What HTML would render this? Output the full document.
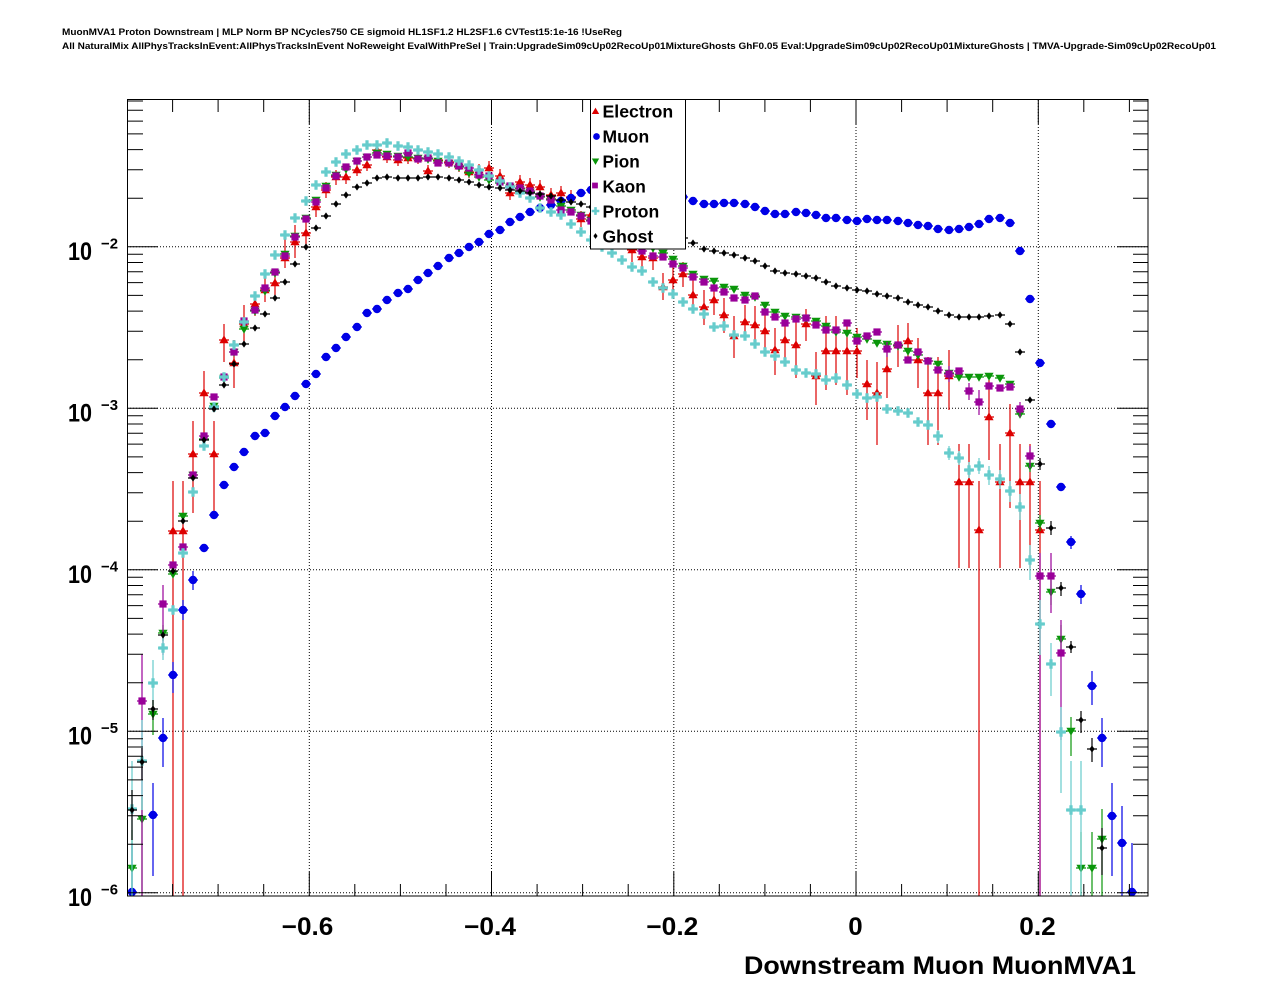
<!DOCTYPE html>
<html><head><meta charset="utf-8"><style>html,body{margin:0;padding:0;background:#fff;overflow:hidden}svg{display:block}</style></head>
<body>
<svg width="1276" height="996" viewBox="0 0 1276 996" xmlns="http://www.w3.org/2000/svg" xmlns:xlink="http://www.w3.org/1999/xlink" font-family="'Liberation Sans', Arial, sans-serif" font-weight="bold">
<defs>
<circle id="mc" cx="0" cy="0" r="4.2"/>
<path id="mtu" d="M0-4.8L4.6 3.2H-4.6Z"/>
<path id="mtd" d="M0 4.8L4.6-3.2H-4.6Z"/>
<path id="ms" d="M-3.6-3.6h7.2v7.2h-7.2z"/>
<path id="mx" d="M-1.6-4.8h3.2v3.2h3.2v3.2h-3.2v3.2h-3.2v-3.2h-3.2v-3.2h3.2z"/>
<path id="md" d="M0-3.6L2.6 0 0 3.6-2.6 0Z"/>
</defs>
<rect width="1276" height="996" fill="#fff"/>
<text x="62" y="35" font-size="9.5" textLength="560" lengthAdjust="spacingAndGlyphs">MuonMVA1 Proton Downstream | MLP Norm BP NCycles750 CE sigmoid HL1SF1.2 HL2SF1.6 CVTest15:1e-16 !UseReg</text>
<text x="62" y="49" font-size="9.5" textLength="1154" lengthAdjust="spacingAndGlyphs">All NaturalMix AllPhysTracksInEvent:AllPhysTracksInEvent NoReweight EvalWithPreSel | Train:UpgradeSim09cUp02RecoUp01MixtureGhosts GhF0.05 Eval:UpgradeSim09cUp02RecoUp01MixtureGhosts | TMVA-Upgrade-Sim09cUp02RecoUp01</text>

<!-- grid -->
<path d="M309.3 100V896M491.5 100V896M673.8 100V896M856 100V896M1038.3 100V896M127 246.8H1148M127 408.3H1148M127 569.8H1148M127 731.3H1148M127 892.8H1148" stroke="#000" stroke-width="1" stroke-dasharray="1 2" fill="none"/>

<!-- Electron -->
<g stroke="#dd0000" stroke-width="1.2" fill="none">
<path d="M168 531h10M173 481V896M178 531h10M183 481V896M188 454h10M193 421V513M199 393h10M204 371V440M209 454h10M214 421V513M219 340h10M224 324V362M229 363h10M234 340V388M239 324h10M244 305V345M250 304h10M255 292V316M260 290h10M265 278V302M270 283h10M275 272V295M280 258h10M285 238V268M290 242h10M295 225V258M301 233h10M306 220V245M311 207h10M316 198V217M321 190h10M326 182V198M331 177h10M336 170V185M341 177h10M346 171V184M352 170h10M357 164V176M362 165h10M367 159V171M372 150h10M377 144V156M382 157h10M387 151V163M393 160h10M398 154V166M403 158h10M408 152V164M413 158h10M418 152V164M423 171h10M428 165V177M433 160h10M438 154V166M444 162h10M449 156V168M454 166h10M459 160V172M464 172h10M469 166V178M474 170h10M479 164V176M484 168h10M489 161V175M495 176h10M500 169V183M505 193h10M510 186V200M515 182h10M520 175V189M525 185h10M530 178V192M535 187h10M540 180V194M546 195h10M551 188V202M556 193h10M561 186V200M566 197h10M571 190V204M576 219h10M581 211V227M586 215h10M591 207V223M627 250h10M632 240V262M637 257h10M642 247V268M648 258h10M653 247V270M658 287h10M663 273V300M668 280h10M673 266V295M678 274h10M683 262V287M688 295h10M693 280V310M699 307h10M704 290V325M709 300h10M714 286V315M719 315h10M724 298V333M729 336h10M734 316V358M740 322h10M745 305V340M750 325h10M755 306V345M760 331h10M765 312V350M770 350h10M775 328V375M780 340h10M785 320V362M791 345h10M796 314V378M801 324h10M806 309V341M811 376h10M816 352V405M821 351h10M826 316V390M831 351h10M836 316V385M842 351h10M847 320V395M852 351h10M857 328V378M862 384h10M867 360V420M872 393h10M877 362V445M882 369h10M887 343V398M893 345h10M898 325V367M903 341h10M908 323V362M913 360h10M918 338V388M923 393h10M928 357V445M933 393h10M938 357V445M944 376h10M949 350V410M954 482h10M959 444V568M964 482h10M969 444V568M974 530h10M979 481V896M984 417h10M989 380V460M995 482h10M1000 444V568M1005 433h10M1010 404V508M1015 482h10M1020 444V568M1025 482h10M1030 444V568M1035 530h10M1040 481V896"/>
</g>
<g fill="#dd0000">
<use href="#mtu" x="173" y="531"/><use href="#mtu" x="183" y="531"/><use href="#mtu" x="193" y="454"/><use href="#mtu" x="204" y="393"/><use href="#mtu" x="214" y="454"/><use href="#mtu" x="224" y="340"/><use href="#mtu" x="234" y="363"/><use href="#mtu" x="244" y="324"/><use href="#mtu" x="255" y="304"/><use href="#mtu" x="265" y="290"/><use href="#mtu" x="275" y="283"/><use href="#mtu" x="285" y="258"/><use href="#mtu" x="295" y="242"/><use href="#mtu" x="306" y="233"/><use href="#mtu" x="316" y="207"/><use href="#mtu" x="326" y="190"/><use href="#mtu" x="336" y="177"/><use href="#mtu" x="346" y="177"/><use href="#mtu" x="357" y="170"/><use href="#mtu" x="367" y="165"/><use href="#mtu" x="377" y="150"/><use href="#mtu" x="387" y="157"/><use href="#mtu" x="398" y="160"/><use href="#mtu" x="408" y="158"/><use href="#mtu" x="418" y="158"/><use href="#mtu" x="428" y="171"/><use href="#mtu" x="438" y="160"/><use href="#mtu" x="449" y="162"/><use href="#mtu" x="459" y="166"/><use href="#mtu" x="469" y="172"/><use href="#mtu" x="479" y="170"/><use href="#mtu" x="489" y="168"/><use href="#mtu" x="500" y="176"/><use href="#mtu" x="510" y="193"/><use href="#mtu" x="520" y="182"/><use href="#mtu" x="530" y="185"/><use href="#mtu" x="540" y="187"/><use href="#mtu" x="551" y="195"/><use href="#mtu" x="561" y="193"/><use href="#mtu" x="571" y="197"/><use href="#mtu" x="581" y="219"/><use href="#mtu" x="591" y="215"/><use href="#mtu" x="632" y="250"/><use href="#mtu" x="642" y="257"/><use href="#mtu" x="653" y="258"/><use href="#mtu" x="663" y="287"/><use href="#mtu" x="673" y="280"/><use href="#mtu" x="683" y="274"/><use href="#mtu" x="693" y="295"/><use href="#mtu" x="704" y="307"/><use href="#mtu" x="714" y="300"/><use href="#mtu" x="724" y="315"/><use href="#mtu" x="734" y="336"/><use href="#mtu" x="745" y="322"/><use href="#mtu" x="755" y="325"/><use href="#mtu" x="765" y="331"/><use href="#mtu" x="775" y="350"/><use href="#mtu" x="785" y="340"/><use href="#mtu" x="796" y="345"/><use href="#mtu" x="806" y="324"/><use href="#mtu" x="816" y="376"/><use href="#mtu" x="826" y="351"/><use href="#mtu" x="836" y="351"/><use href="#mtu" x="847" y="351"/><use href="#mtu" x="857" y="351"/><use href="#mtu" x="867" y="384"/><use href="#mtu" x="877" y="393"/><use href="#mtu" x="887" y="369"/><use href="#mtu" x="898" y="345"/><use href="#mtu" x="908" y="341"/><use href="#mtu" x="918" y="360"/><use href="#mtu" x="928" y="393"/><use href="#mtu" x="938" y="393"/><use href="#mtu" x="949" y="376"/><use href="#mtu" x="959" y="482"/><use href="#mtu" x="969" y="482"/><use href="#mtu" x="979" y="530"/><use href="#mtu" x="989" y="417"/><use href="#mtu" x="1000" y="482"/><use href="#mtu" x="1010" y="433"/><use href="#mtu" x="1020" y="482"/><use href="#mtu" x="1030" y="482"/><use href="#mtu" x="1040" y="530"/>
</g>

<!-- Muon -->
<g stroke="#0000e6" stroke-width="1.2" fill="none">
<path d="M127 892h10M132 843V896M148 815h10M153 783V876M158 738h10M163 718V767M168 675h10M173 662V693M178 610h10M183 600V620M188 580h10M193 571V590M199 548h10M209 515h10M219 485h10M229 467h10M239 452h10M250 436h10M260 433h10M270 416h10M280 407h10M290 396h10M301 384h10M311 374h10M321 357h10M331 348h10M341 337h10M352 327h10M362 313h10M372 309h10M382 300h10M393 293h10M403 289h10M413 280h10M423 273h10M433 266h10M444 258h10M454 253h10M464 247h10M474 242h10M484 234h10M495 230h10M505 222h10M515 217h10M525 212h10M535 208h10M546 205h10M556 201h10M566 198h10M576 193h10M586 190h10M678 197h10M688 201h10M699 204h10M709 204h10M719 203h10M729 203h10M740 204h10M750 207h10M760 211h10M770 214h10M780 214h10M791 212h10M801 213h10M811 215h10M821 218h10M831 218h10M842 220h10M852 221h10M862 219h10M872 220h10M882 220h10M893 221h10M903 223h10M913 225h10M923 226h10M933 229h10M944 230h10M954 229h10M964 227h10M974 224h10M984 219h10M995 218h10M1005 223h10M1015 251h10M1025 299h10M1035 363h10M1046 424h10M1056 487h10M1066 542h10M1071 536V549M1076 594h10M1081 585V604M1087 686h10M1092 671V705M1097 738h10M1102 718V767M1107 816h10M1112 783V876M1117 843h10M1122 806V896M1127 892h10M1132 843V896"/>
</g>
<g fill="#0000e6">
<use href="#mc" x="132" y="892"/><use href="#mc" x="153" y="815"/><use href="#mc" x="163" y="738"/><use href="#mc" x="173" y="675"/><use href="#mc" x="183" y="610"/><use href="#mc" x="193" y="580"/><use href="#mc" x="204" y="548"/><use href="#mc" x="214" y="515"/><use href="#mc" x="224" y="485"/><use href="#mc" x="234" y="467"/><use href="#mc" x="244" y="452"/><use href="#mc" x="255" y="436"/><use href="#mc" x="265" y="433"/><use href="#mc" x="275" y="416"/><use href="#mc" x="285" y="407"/><use href="#mc" x="295" y="396"/><use href="#mc" x="306" y="384"/><use href="#mc" x="316" y="374"/><use href="#mc" x="326" y="357"/><use href="#mc" x="336" y="348"/><use href="#mc" x="346" y="337"/><use href="#mc" x="357" y="327"/><use href="#mc" x="367" y="313"/><use href="#mc" x="377" y="309"/><use href="#mc" x="387" y="300"/><use href="#mc" x="398" y="293"/><use href="#mc" x="408" y="289"/><use href="#mc" x="418" y="280"/><use href="#mc" x="428" y="273"/><use href="#mc" x="438" y="266"/><use href="#mc" x="449" y="258"/><use href="#mc" x="459" y="253"/><use href="#mc" x="469" y="247"/><use href="#mc" x="479" y="242"/><use href="#mc" x="489" y="234"/><use href="#mc" x="500" y="230"/><use href="#mc" x="510" y="222"/><use href="#mc" x="520" y="217"/><use href="#mc" x="530" y="212"/><use href="#mc" x="540" y="208"/><use href="#mc" x="551" y="205"/><use href="#mc" x="561" y="201"/><use href="#mc" x="571" y="198"/><use href="#mc" x="581" y="193"/><use href="#mc" x="591" y="190"/><use href="#mc" x="683" y="197"/><use href="#mc" x="693" y="201"/><use href="#mc" x="704" y="204"/><use href="#mc" x="714" y="204"/><use href="#mc" x="724" y="203"/><use href="#mc" x="734" y="203"/><use href="#mc" x="745" y="204"/><use href="#mc" x="755" y="207"/><use href="#mc" x="765" y="211"/><use href="#mc" x="775" y="214"/><use href="#mc" x="785" y="214"/><use href="#mc" x="796" y="212"/><use href="#mc" x="806" y="213"/><use href="#mc" x="816" y="215"/><use href="#mc" x="826" y="218"/><use href="#mc" x="836" y="218"/><use href="#mc" x="847" y="220"/><use href="#mc" x="857" y="221"/><use href="#mc" x="867" y="219"/><use href="#mc" x="877" y="220"/><use href="#mc" x="887" y="220"/><use href="#mc" x="898" y="221"/><use href="#mc" x="908" y="223"/><use href="#mc" x="918" y="225"/><use href="#mc" x="928" y="226"/><use href="#mc" x="938" y="229"/><use href="#mc" x="949" y="230"/><use href="#mc" x="959" y="229"/><use href="#mc" x="969" y="227"/><use href="#mc" x="979" y="224"/><use href="#mc" x="989" y="219"/><use href="#mc" x="1000" y="218"/><use href="#mc" x="1010" y="223"/><use href="#mc" x="1020" y="251"/><use href="#mc" x="1030" y="299"/><use href="#mc" x="1040" y="363"/><use href="#mc" x="1051" y="424"/><use href="#mc" x="1061" y="487"/><use href="#mc" x="1071" y="542"/><use href="#mc" x="1081" y="594"/><use href="#mc" x="1092" y="686"/><use href="#mc" x="1102" y="738"/><use href="#mc" x="1112" y="816"/><use href="#mc" x="1122" y="843"/><use href="#mc" x="1132" y="892"/>
</g>

<!-- Pion -->
<g stroke="#0a960a" stroke-width="1.2" fill="none">
<path d="M127 868h10M132 830V896M137 819h10M142 797V896M148 714h10M153 700V735M158 633h10M163 625V641M168 574h10M178 516h10M188 475h10M199 439h10M209 406h10M219 378h10M229 352h10M239 329h10M250 311h10M260 291h10M270 273h10M280 254h10M290 236h10M301 218h10M311 200h10M321 186h10M331 175h10M341 169h10M352 161h10M362 157h10M372 153h10M382 154h10M393 156h10M403 157h10M413 158h10M423 159h10M433 161h10M444 163h10M454 167h10M464 173h10M474 177h10M484 180h10M495 183h10M505 187h10M515 189h10M525 192h10M535 197h10M546 199h10M556 206h10M566 210h10M576 215h10M586 220h10M648 248h10M658 253h10M668 259h10M678 266h10M688 274h10M699 279h10M709 281h10M719 287h10M729 289h10M740 295h10M750 297h10M760 305h10M770 312h10M780 316h10M791 317h10M801 318h10M811 321h10M821 326h10M831 332h10M842 333h10M852 337h10M862 339h10M872 343h10M882 344h10M893 346h10M903 351h10M913 355h10M923 361h10M933 364h10M944 373h10M954 377h10M964 377h10M974 377h10M984 376h10M995 378h10M1005 384h10M1015 414h10M1025 466h10M1030 460V472M1035 523h10M1040 515V531M1046 592h10M1051 580V605M1056 639h10M1061 625V655M1066 731h10M1071 717V756M1076 868h10M1081 832V896M1087 868h10M1092 832V896M1097 839h10M1102 809V896"/>
</g>
<g fill="#0a960a">
<use href="#mtd" x="132" y="868"/><use href="#mtd" x="142" y="819"/><use href="#mtd" x="153" y="714"/><use href="#mtd" x="163" y="633"/><use href="#mtd" x="173" y="574"/><use href="#mtd" x="183" y="516"/><use href="#mtd" x="193" y="475"/><use href="#mtd" x="204" y="439"/><use href="#mtd" x="214" y="406"/><use href="#mtd" x="224" y="378"/><use href="#mtd" x="234" y="352"/><use href="#mtd" x="244" y="329"/><use href="#mtd" x="255" y="311"/><use href="#mtd" x="265" y="291"/><use href="#mtd" x="275" y="273"/><use href="#mtd" x="285" y="254"/><use href="#mtd" x="295" y="236"/><use href="#mtd" x="306" y="218"/><use href="#mtd" x="316" y="200"/><use href="#mtd" x="326" y="186"/><use href="#mtd" x="336" y="175"/><use href="#mtd" x="346" y="169"/><use href="#mtd" x="357" y="161"/><use href="#mtd" x="367" y="157"/><use href="#mtd" x="377" y="153"/><use href="#mtd" x="387" y="154"/><use href="#mtd" x="398" y="156"/><use href="#mtd" x="408" y="157"/><use href="#mtd" x="418" y="158"/><use href="#mtd" x="428" y="159"/><use href="#mtd" x="438" y="161"/><use href="#mtd" x="449" y="163"/><use href="#mtd" x="459" y="167"/><use href="#mtd" x="469" y="173"/><use href="#mtd" x="479" y="177"/><use href="#mtd" x="489" y="180"/><use href="#mtd" x="500" y="183"/><use href="#mtd" x="510" y="187"/><use href="#mtd" x="520" y="189"/><use href="#mtd" x="530" y="192"/><use href="#mtd" x="540" y="197"/><use href="#mtd" x="551" y="199"/><use href="#mtd" x="561" y="206"/><use href="#mtd" x="571" y="210"/><use href="#mtd" x="581" y="215"/><use href="#mtd" x="591" y="220"/><use href="#mtd" x="653" y="248"/><use href="#mtd" x="663" y="253"/><use href="#mtd" x="673" y="259"/><use href="#mtd" x="683" y="266"/><use href="#mtd" x="693" y="274"/><use href="#mtd" x="704" y="279"/><use href="#mtd" x="714" y="281"/><use href="#mtd" x="724" y="287"/><use href="#mtd" x="734" y="289"/><use href="#mtd" x="745" y="295"/><use href="#mtd" x="755" y="297"/><use href="#mtd" x="765" y="305"/><use href="#mtd" x="775" y="312"/><use href="#mtd" x="785" y="316"/><use href="#mtd" x="796" y="317"/><use href="#mtd" x="806" y="318"/><use href="#mtd" x="816" y="321"/><use href="#mtd" x="826" y="326"/><use href="#mtd" x="836" y="332"/><use href="#mtd" x="847" y="333"/><use href="#mtd" x="857" y="337"/><use href="#mtd" x="867" y="339"/><use href="#mtd" x="877" y="343"/><use href="#mtd" x="887" y="344"/><use href="#mtd" x="898" y="346"/><use href="#mtd" x="908" y="351"/><use href="#mtd" x="918" y="355"/><use href="#mtd" x="928" y="361"/><use href="#mtd" x="938" y="364"/><use href="#mtd" x="949" y="373"/><use href="#mtd" x="959" y="377"/><use href="#mtd" x="969" y="377"/><use href="#mtd" x="979" y="377"/><use href="#mtd" x="989" y="376"/><use href="#mtd" x="1000" y="378"/><use href="#mtd" x="1010" y="384"/><use href="#mtd" x="1020" y="414"/><use href="#mtd" x="1030" y="466"/><use href="#mtd" x="1040" y="523"/><use href="#mtd" x="1051" y="592"/><use href="#mtd" x="1061" y="639"/><use href="#mtd" x="1071" y="731"/><use href="#mtd" x="1081" y="868"/><use href="#mtd" x="1092" y="868"/><use href="#mtd" x="1102" y="839"/>
</g>

<!-- Kaon -->
<g stroke="#990099" stroke-width="1.2" fill="none">
<path d="M137 701h10M142 654V896M158 604h10M163 585V655M168 565h10M178 547h10M188 475h10M199 436h10M209 397h10M219 377h10M229 352h10M239 321h10M250 310h10M260 288h10M270 272h10M280 256h10M290 237h10M301 219h10M311 202h10M321 188h10M331 176h10M341 167h10M352 161h10M362 157h10M372 155h10M382 156h10M393 157h10M403 153h10M413 159h10M423 158h10M433 163h10M444 163h10M454 166h10M464 168h10M474 175h10M484 176h10M495 182h10M505 186h10M515 188h10M525 191h10M535 196h10M546 200h10M556 210h10M566 212h10M576 216h10M586 221h10M637 251h10M648 256h10M658 257h10M668 264h10M678 268h10M688 277h10M699 282h10M709 288h10M719 292h10M729 298h10M740 300h10M750 296h10M760 312h10M770 317h10M780 323h10M791 319h10M801 318h10M811 325h10M821 330h10M831 330h10M842 323h10M852 341h10M862 336h10M872 332h10M882 349h10M887 342V357M893 345h10M903 360h10M913 352h10M923 361h10M933 370h10M944 374h10M949 366V382M954 371h10M964 391h10M969 383V400M974 402h10M979 390V415M984 386h10M995 388h10M1005 387h10M1015 409h10M1020 402V417M1025 456h10M1030 446V468M1035 576h10M1040 553V896M1046 576h10M1051 553V613M1056 653h10M1061 620V740"/>
</g>
<g fill="#990099">
<use href="#ms" x="142" y="701"/><use href="#ms" x="163" y="604"/><use href="#ms" x="173" y="565"/><use href="#ms" x="183" y="547"/><use href="#ms" x="193" y="475"/><use href="#ms" x="204" y="436"/><use href="#ms" x="214" y="397"/><use href="#ms" x="224" y="377"/><use href="#ms" x="234" y="352"/><use href="#ms" x="244" y="321"/><use href="#ms" x="255" y="310"/><use href="#ms" x="265" y="288"/><use href="#ms" x="275" y="272"/><use href="#ms" x="285" y="256"/><use href="#ms" x="295" y="237"/><use href="#ms" x="306" y="219"/><use href="#ms" x="316" y="202"/><use href="#ms" x="326" y="188"/><use href="#ms" x="336" y="176"/><use href="#ms" x="346" y="167"/><use href="#ms" x="357" y="161"/><use href="#ms" x="367" y="157"/><use href="#ms" x="377" y="155"/><use href="#ms" x="387" y="156"/><use href="#ms" x="398" y="157"/><use href="#ms" x="408" y="153"/><use href="#ms" x="418" y="159"/><use href="#ms" x="428" y="158"/><use href="#ms" x="438" y="163"/><use href="#ms" x="449" y="163"/><use href="#ms" x="459" y="166"/><use href="#ms" x="469" y="168"/><use href="#ms" x="479" y="175"/><use href="#ms" x="489" y="176"/><use href="#ms" x="500" y="182"/><use href="#ms" x="510" y="186"/><use href="#ms" x="520" y="188"/><use href="#ms" x="530" y="191"/><use href="#ms" x="540" y="196"/><use href="#ms" x="551" y="200"/><use href="#ms" x="561" y="210"/><use href="#ms" x="571" y="212"/><use href="#ms" x="581" y="216"/><use href="#ms" x="591" y="221"/><use href="#ms" x="642" y="251"/><use href="#ms" x="653" y="256"/><use href="#ms" x="663" y="257"/><use href="#ms" x="673" y="264"/><use href="#ms" x="683" y="268"/><use href="#ms" x="693" y="277"/><use href="#ms" x="704" y="282"/><use href="#ms" x="714" y="288"/><use href="#ms" x="724" y="292"/><use href="#ms" x="734" y="298"/><use href="#ms" x="745" y="300"/><use href="#ms" x="755" y="296"/><use href="#ms" x="765" y="312"/><use href="#ms" x="775" y="317"/><use href="#ms" x="785" y="323"/><use href="#ms" x="796" y="319"/><use href="#ms" x="806" y="318"/><use href="#ms" x="816" y="325"/><use href="#ms" x="826" y="330"/><use href="#ms" x="836" y="330"/><use href="#ms" x="847" y="323"/><use href="#ms" x="857" y="341"/><use href="#ms" x="867" y="336"/><use href="#ms" x="877" y="332"/><use href="#ms" x="887" y="349"/><use href="#ms" x="898" y="345"/><use href="#ms" x="908" y="360"/><use href="#ms" x="918" y="352"/><use href="#ms" x="928" y="361"/><use href="#ms" x="938" y="370"/><use href="#ms" x="949" y="374"/><use href="#ms" x="959" y="371"/><use href="#ms" x="969" y="391"/><use href="#ms" x="979" y="402"/><use href="#ms" x="989" y="386"/><use href="#ms" x="1000" y="388"/><use href="#ms" x="1010" y="387"/><use href="#ms" x="1020" y="409"/><use href="#ms" x="1030" y="456"/><use href="#ms" x="1040" y="576"/><use href="#ms" x="1051" y="576"/><use href="#ms" x="1061" y="653"/>
</g>

<!-- Proton -->
<g stroke="#66cccc" stroke-width="1.2" fill="none">
<path d="M127 809h10M132 761V896M137 761h10M142 720V810M148 683h10M153 660V705M158 648h10M163 638V660M168 610h10M178 553h10M188 492h10M199 446h10M209 407h10M219 377h10M229 345h10M239 322h10M250 296h10M260 274h10M270 255h10M280 235h10M290 218h10M301 201h10M311 185h10M321 172h10M331 162h10M341 154h10M352 150h10M362 145h10M372 145h10M382 143h10M393 146h10M403 147h10M413 150h10M423 152h10M433 154h10M444 157h10M454 161h10M464 165h10M474 170h10M484 176h10M495 181h10M505 187h10M515 193h10M525 198h10M535 208h10M546 212h10M556 215h10M566 224h10M576 232h10M586 240h10M597 247h10M607 253h10M617 260h10M627 267h10M637 271h10M648 282h10M658 288h10M668 294h10M678 302h10M688 309h10M699 314h10M709 327h10M719 326h10M729 335h10M740 336h10M750 344h10M760 352h10M770 356h10M780 362h10M791 370h10M801 373h10M811 374h10M821 380h10M831 378h10M842 385h10M852 394h10M862 398h10M872 397h10M882 409h10M893 411h10M903 413h10M913 422h10M923 425h10M933 436h10M938 430V443M944 453h10M949 446V460M954 458h10M959 451V465M964 470h10M969 462V478M974 466h10M979 458V474M984 475h10M989 466V485M995 479h10M1000 470V489M1005 491h10M1010 481V502M1015 507h10M1020 494V520M1025 560h10M1030 545V580M1035 624h10M1040 600V655M1046 664h10M1051 643V696M1056 732h10M1061 707V793M1066 810h10M1071 761V896M1076 810h10M1081 761V896"/>
</g>
<g fill="#66cccc">
<use href="#mx" x="132" y="809"/><use href="#mx" x="142" y="761"/><use href="#mx" x="153" y="683"/><use href="#mx" x="163" y="648"/><use href="#mx" x="173" y="610"/><use href="#mx" x="183" y="553"/><use href="#mx" x="193" y="492"/><use href="#mx" x="204" y="446"/><use href="#mx" x="214" y="407"/><use href="#mx" x="224" y="377"/><use href="#mx" x="234" y="345"/><use href="#mx" x="244" y="322"/><use href="#mx" x="255" y="296"/><use href="#mx" x="265" y="274"/><use href="#mx" x="275" y="255"/><use href="#mx" x="285" y="235"/><use href="#mx" x="295" y="218"/><use href="#mx" x="306" y="201"/><use href="#mx" x="316" y="185"/><use href="#mx" x="326" y="172"/><use href="#mx" x="336" y="162"/><use href="#mx" x="346" y="154"/><use href="#mx" x="357" y="150"/><use href="#mx" x="367" y="145"/><use href="#mx" x="377" y="145"/><use href="#mx" x="387" y="143"/><use href="#mx" x="398" y="146"/><use href="#mx" x="408" y="147"/><use href="#mx" x="418" y="150"/><use href="#mx" x="428" y="152"/><use href="#mx" x="438" y="154"/><use href="#mx" x="449" y="157"/><use href="#mx" x="459" y="161"/><use href="#mx" x="469" y="165"/><use href="#mx" x="479" y="170"/><use href="#mx" x="489" y="176"/><use href="#mx" x="500" y="181"/><use href="#mx" x="510" y="187"/><use href="#mx" x="520" y="193"/><use href="#mx" x="530" y="198"/><use href="#mx" x="540" y="208"/><use href="#mx" x="551" y="212"/><use href="#mx" x="561" y="215"/><use href="#mx" x="571" y="224"/><use href="#mx" x="581" y="232"/><use href="#mx" x="591" y="240"/><use href="#mx" x="602" y="247"/><use href="#mx" x="612" y="253"/><use href="#mx" x="622" y="260"/><use href="#mx" x="632" y="267"/><use href="#mx" x="642" y="271"/><use href="#mx" x="653" y="282"/><use href="#mx" x="663" y="288"/><use href="#mx" x="673" y="294"/><use href="#mx" x="683" y="302"/><use href="#mx" x="693" y="309"/><use href="#mx" x="704" y="314"/><use href="#mx" x="714" y="327"/><use href="#mx" x="724" y="326"/><use href="#mx" x="734" y="335"/><use href="#mx" x="745" y="336"/><use href="#mx" x="755" y="344"/><use href="#mx" x="765" y="352"/><use href="#mx" x="775" y="356"/><use href="#mx" x="785" y="362"/><use href="#mx" x="796" y="370"/><use href="#mx" x="806" y="373"/><use href="#mx" x="816" y="374"/><use href="#mx" x="826" y="380"/><use href="#mx" x="836" y="378"/><use href="#mx" x="847" y="385"/><use href="#mx" x="857" y="394"/><use href="#mx" x="867" y="398"/><use href="#mx" x="877" y="397"/><use href="#mx" x="887" y="409"/><use href="#mx" x="898" y="411"/><use href="#mx" x="908" y="413"/><use href="#mx" x="918" y="422"/><use href="#mx" x="928" y="425"/><use href="#mx" x="938" y="436"/><use href="#mx" x="949" y="453"/><use href="#mx" x="959" y="458"/><use href="#mx" x="969" y="470"/><use href="#mx" x="979" y="466"/><use href="#mx" x="989" y="475"/><use href="#mx" x="1000" y="479"/><use href="#mx" x="1010" y="491"/><use href="#mx" x="1020" y="507"/><use href="#mx" x="1030" y="560"/><use href="#mx" x="1040" y="624"/><use href="#mx" x="1051" y="664"/><use href="#mx" x="1061" y="732"/><use href="#mx" x="1071" y="810"/><use href="#mx" x="1081" y="810"/>
</g>

<!-- Ghost -->
<g stroke="#000" stroke-width="1.2" fill="none">
<path d="M127 810h10M132 790V840M137 762h10M142 748V780M148 709h10M153 700V720M158 635h10M168 571h10M178 521h10M188 478h10M199 440h10M209 409h10M219 385h10M229 364h10M239 344h10M250 328h10M260 314h10M270 298h10M280 282h10M290 264h10M301 247h10M311 228h10M321 216h10M331 204h10M341 195h10M352 187h10M362 183h10M372 178h10M382 177h10M393 178h10M403 178h10M413 178h10M423 177h10M433 177h10M444 178h10M454 180h10M464 182h10M474 185h10M484 187h10M495 188h10M505 190h10M515 191h10M525 193h10M535 194h10M546 196h10M556 200h10M566 202h10M576 204h10M586 207h10M678 238h10M688 243h10M699 249h10M709 251h10M719 253h10M729 255h10M740 258h10M750 261h10M760 266h10M770 271h10M780 273h10M791 274h10M801 276h10M811 278h10M821 282h10M831 286h10M842 288h10M852 290h10M862 291h10M872 294h10M882 296h10M893 298h10M903 302h10M913 305h10M923 307h10M933 311h10M944 315h10M954 317h10M964 317h10M974 317h10M984 316h10M995 315h10M1005 324h10M1015 352h10M1025 400h10M1035 464h10M1040 458V470M1046 528h10M1051 521V535M1056 588h10M1061 582V596M1066 647h10M1071 641V653M1076 720h10M1081 711V733M1087 749h10M1092 738V762M1097 848h10M1102 828V875"/>
</g>
<g fill="#000">
<use href="#md" x="132" y="810"/><use href="#md" x="142" y="762"/><use href="#md" x="153" y="709"/><use href="#md" x="163" y="635"/><use href="#md" x="173" y="571"/><use href="#md" x="183" y="521"/><use href="#md" x="193" y="478"/><use href="#md" x="204" y="440"/><use href="#md" x="214" y="409"/><use href="#md" x="224" y="385"/><use href="#md" x="234" y="364"/><use href="#md" x="244" y="344"/><use href="#md" x="255" y="328"/><use href="#md" x="265" y="314"/><use href="#md" x="275" y="298"/><use href="#md" x="285" y="282"/><use href="#md" x="295" y="264"/><use href="#md" x="306" y="247"/><use href="#md" x="316" y="228"/><use href="#md" x="326" y="216"/><use href="#md" x="336" y="204"/><use href="#md" x="346" y="195"/><use href="#md" x="357" y="187"/><use href="#md" x="367" y="183"/><use href="#md" x="377" y="178"/><use href="#md" x="387" y="177"/><use href="#md" x="398" y="178"/><use href="#md" x="408" y="178"/><use href="#md" x="418" y="178"/><use href="#md" x="428" y="177"/><use href="#md" x="438" y="177"/><use href="#md" x="449" y="178"/><use href="#md" x="459" y="180"/><use href="#md" x="469" y="182"/><use href="#md" x="479" y="185"/><use href="#md" x="489" y="187"/><use href="#md" x="500" y="188"/><use href="#md" x="510" y="190"/><use href="#md" x="520" y="191"/><use href="#md" x="530" y="193"/><use href="#md" x="540" y="194"/><use href="#md" x="551" y="196"/><use href="#md" x="561" y="200"/><use href="#md" x="571" y="202"/><use href="#md" x="581" y="204"/><use href="#md" x="591" y="207"/><use href="#md" x="683" y="238"/><use href="#md" x="693" y="243"/><use href="#md" x="704" y="249"/><use href="#md" x="714" y="251"/><use href="#md" x="724" y="253"/><use href="#md" x="734" y="255"/><use href="#md" x="745" y="258"/><use href="#md" x="755" y="261"/><use href="#md" x="765" y="266"/><use href="#md" x="775" y="271"/><use href="#md" x="785" y="273"/><use href="#md" x="796" y="274"/><use href="#md" x="806" y="276"/><use href="#md" x="816" y="278"/><use href="#md" x="826" y="282"/><use href="#md" x="836" y="286"/><use href="#md" x="847" y="288"/><use href="#md" x="857" y="290"/><use href="#md" x="867" y="291"/><use href="#md" x="877" y="294"/><use href="#md" x="887" y="296"/><use href="#md" x="898" y="298"/><use href="#md" x="908" y="302"/><use href="#md" x="918" y="305"/><use href="#md" x="928" y="307"/><use href="#md" x="938" y="311"/><use href="#md" x="949" y="315"/><use href="#md" x="959" y="317"/><use href="#md" x="969" y="317"/><use href="#md" x="979" y="317"/><use href="#md" x="989" y="316"/><use href="#md" x="1000" y="315"/><use href="#md" x="1010" y="324"/><use href="#md" x="1020" y="352"/><use href="#md" x="1030" y="400"/><use href="#md" x="1040" y="464"/><use href="#md" x="1051" y="528"/><use href="#md" x="1061" y="588"/><use href="#md" x="1071" y="647"/><use href="#md" x="1081" y="720"/><use href="#md" x="1092" y="749"/><use href="#md" x="1102" y="848"/>
</g>

<!-- frame and ticks -->
<rect x="127.5" y="99.5" width="1020.5" height="796.5" fill="none" stroke="#000" stroke-width="1"/>
<path stroke="#000" stroke-width="1" fill="none" d="M127 246.8h31M127 408.3h31M127 569.8h31M127 731.3h31M127 892.8h31M1148 246.8h-31M1148 408.3h-31M1148 569.8h-31M1148 731.3h-31M1148 892.8h-31
M127 844.2h16M127 815.7h16M127 795.6h16M127 779.9h16M127 767.1h16M127 756.3h16M127 747h16M127 738.7h16M127 682.7h16M127 654.2h16M127 634.1h16M127 618.4h16M127 605.6h16M127 594.8h16M127 585.5h16M127 577.2h16M127 521.2h16M127 492.7h16M127 472.6h16M127 456.9h16M127 444.1h16M127 433.3h16M127 424h16M127 415.7h16M127 359.7h16M127 331.2h16M127 311.1h16M127 295.4h16M127 282.6h16M127 271.8h16M127 262.5h16M127 254.2h16M127 198.2h16M127 169.7h16M127 149.6h16M127 133.9h16M127 121.1h16M127 110.3h16M127 101h16
M1148 844.2h-15M1148 815.7h-15M1148 795.6h-15M1148 779.9h-15M1148 767.1h-15M1148 756.3h-15M1148 747h-15M1148 738.7h-15M1148 682.7h-15M1148 654.2h-15M1148 634.1h-15M1148 618.4h-15M1148 605.6h-15M1148 594.8h-15M1148 585.5h-15M1148 577.2h-15M1148 521.2h-15M1148 492.7h-15M1148 472.6h-15M1148 456.9h-15M1148 444.1h-15M1148 433.3h-15M1148 424h-15M1148 415.7h-15M1148 359.7h-15M1148 331.2h-15M1148 311.1h-15M1148 295.4h-15M1148 282.6h-15M1148 271.8h-15M1148 262.5h-15M1148 254.2h-15M1148 198.2h-15M1148 169.7h-15M1148 149.6h-15M1148 133.9h-15M1148 121.1h-15M1148 110.3h-15M1148 101h-15
M309.3 896v-24M491.5 896v-24M673.8 896v-24M856 896v-24M1038.3 896v-24M309.3 100v24M491.5 100v24M673.8 100v24M856 100v24M1038.3 100v24
M172.6 896v-12M218.1 896v-12M263.7 896v-12M354.8 896v-12M400.4 896v-12M446 896v-12M537.1 896v-12M582.6 896v-12M628.2 896v-12M719.3 896v-12M764.9 896v-12M810.4 896v-12M901.6 896v-12M947.1 896v-12M992.7 896v-12M1083.8 896v-12M1129.4 896v-12
M172.6 100v12M218.1 100v12M263.7 100v12M354.8 100v12M400.4 100v12M446 100v12M537.1 100v12M582.6 100v12M628.2 100v12M719.3 100v12M764.9 100v12M810.4 100v12M901.6 100v12M947.1 100v12M992.7 100v12M1083.8 100v12M1129.4 100v12"/>

<!-- legend -->
<rect x="590.5" y="99.5" width="95" height="149.5" fill="#fff" stroke="#000" stroke-width="1"/>
<use href="#mtu" x="595.5" y="111.5" fill="#dd0000" transform="translate(119.1 22.3) scale(0.8)"/>
<use href="#mc" x="596.5" y="136.5" fill="#0000e6" transform="translate(119.3 27.3) scale(0.8)"/>
<use href="#mtd" x="595.5" y="161" fill="#0a960a" transform="translate(119.1 32.2) scale(0.8)"/>
<use href="#ms" x="595" y="185.5" fill="#990099" transform="translate(119 37.1) scale(0.8)"/>
<use href="#mx" x="595.5" y="211" fill="#66cccc" transform="translate(119.1 42.2) scale(0.8)"/>
<use href="#md" x="595.5" y="236" fill="#000" transform="translate(119.1 47.2) scale(0.8)"/>
<g font-size="17.5" fill="#000">
<text x="602.5" y="117.5" textLength="70.7" lengthAdjust="spacingAndGlyphs">Electron</text>
<text x="602.5" y="142.5" textLength="46.7" lengthAdjust="spacingAndGlyphs">Muon</text>
<text x="602.5" y="167.5" textLength="37.3" lengthAdjust="spacingAndGlyphs">Pion</text>
<text x="602.5" y="192.5" textLength="43.3" lengthAdjust="spacingAndGlyphs">Kaon</text>
<text x="602.5" y="217.5" textLength="56.7" lengthAdjust="spacingAndGlyphs">Proton</text>
<text x="602.5" y="242.5" textLength="50.7" lengthAdjust="spacingAndGlyphs">Ghost</text>
</g>

<!-- y labels -->
<g fill="#000">
<text x="68" y="260" font-size="25" textLength="24" lengthAdjust="spacingAndGlyphs">10</text><text x="101" y="248.5" font-size="15" textLength="17" lengthAdjust="spacingAndGlyphs">−2</text>
<text x="68" y="421.5" font-size="25" textLength="24" lengthAdjust="spacingAndGlyphs">10</text><text x="101" y="410" font-size="15" textLength="17" lengthAdjust="spacingAndGlyphs">−3</text>
<text x="68" y="583" font-size="25" textLength="24" lengthAdjust="spacingAndGlyphs">10</text><text x="101" y="571.5" font-size="15" textLength="17" lengthAdjust="spacingAndGlyphs">−4</text>
<text x="68" y="744.5" font-size="25" textLength="24" lengthAdjust="spacingAndGlyphs">10</text><text x="101" y="733" font-size="15" textLength="17" lengthAdjust="spacingAndGlyphs">−5</text>
<text x="68" y="906" font-size="25" textLength="24" lengthAdjust="spacingAndGlyphs">10</text><text x="101" y="894.5" font-size="15" textLength="17" lengthAdjust="spacingAndGlyphs">−6</text>
</g>
<!-- x labels -->
<g fill="#000" font-size="25">
<text x="281.7" y="935" textLength="51.6" lengthAdjust="spacingAndGlyphs">−0.6</text>
<text x="464" y="935" textLength="52" lengthAdjust="spacingAndGlyphs">−0.4</text>
<text x="646.3" y="935" textLength="52" lengthAdjust="spacingAndGlyphs">−0.2</text>
<text x="848.3" y="935" textLength="14.4" lengthAdjust="spacingAndGlyphs">0</text>
<text x="1019.3" y="935" textLength="36.4" lengthAdjust="spacingAndGlyphs">0.2</text>
<text x="744" y="974" textLength="392" lengthAdjust="spacingAndGlyphs">Downstream Muon MuonMVA1</text>
</g>
</svg>
</body></html>
